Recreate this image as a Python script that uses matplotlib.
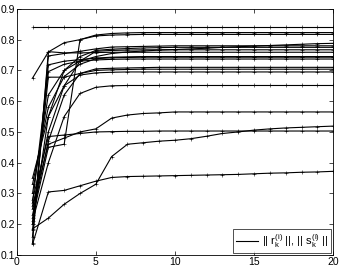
import matplotlib
matplotlib.use('Agg')
import matplotlib.pyplot as plt
import numpy as np

plt.rcParams['font.family'] = ['Liberation Sans', 'DejaVu Sans']
plt.rcParams['mathtext.default'] = 'regular'

################################################################################
# iterations k = 1..20, one row per curve
iters = list(range(1, 21))

norms = [
    [0.84, 0.84, 0.84, 0.84, 0.84, 0.84, 0.84, 0.84, 0.84, 0.84, 0.84, 0.84, 0.84, 0.84, 0.84, 0.84, 0.84, 0.84, 0.84, 0.84],
    [0.675, 0.76, 0.79, 0.80, 0.815, 0.82, 0.822, 0.823, 0.823, 0.823, 0.823, 0.823, 0.823, 0.823, 0.823, 0.823, 0.823, 0.823, 0.823, 0.823],
    [0.22, 0.45, 0.46, 0.80, 0.812, 0.815, 0.816, 0.817, 0.817, 0.817, 0.817, 0.817, 0.817, 0.817, 0.817, 0.817, 0.817, 0.817, 0.817, 0.817],
    [0.20, 0.55, 0.70, 0.73, 0.745, 0.755, 0.76, 0.763, 0.766, 0.768, 0.77, 0.772, 0.775, 0.777, 0.779, 0.781, 0.783, 0.785, 0.787, 0.788],
    [0.16, 0.747, 0.755, 0.762, 0.77, 0.776, 0.777, 0.778, 0.779, 0.78, 0.78, 0.78, 0.78, 0.78, 0.78, 0.78, 0.78, 0.78, 0.78, 0.78],
    [0.30, 0.62, 0.70, 0.745, 0.765, 0.769, 0.771, 0.773, 0.774, 0.775, 0.775, 0.775, 0.775, 0.775, 0.775, 0.775, 0.775, 0.775, 0.775, 0.775],
    [0.25, 0.50, 0.65, 0.73, 0.762, 0.765, 0.766, 0.767, 0.767, 0.767, 0.767, 0.767, 0.767, 0.767, 0.767, 0.767, 0.767, 0.767, 0.767, 0.767],
    [0.14, 0.761, 0.757, 0.757, 0.758, 0.759, 0.759, 0.759, 0.759, 0.759, 0.759, 0.759, 0.759, 0.759, 0.759, 0.759, 0.759, 0.759, 0.759, 0.759],
    [0.18, 0.718, 0.73, 0.735, 0.74, 0.743, 0.744, 0.745, 0.745, 0.745, 0.745, 0.745, 0.745, 0.745, 0.745, 0.745, 0.745, 0.745, 0.745, 0.745],
    [0.33, 0.58, 0.68, 0.72, 0.738, 0.741, 0.742, 0.743, 0.743, 0.743, 0.743, 0.743, 0.743, 0.743, 0.743, 0.743, 0.743, 0.743, 0.743, 0.743],
    [0.27, 0.696, 0.72, 0.73, 0.734, 0.736, 0.737, 0.737, 0.737, 0.737, 0.737, 0.737, 0.737, 0.737, 0.737, 0.737, 0.737, 0.737, 0.737, 0.737],
    [0.23, 0.47, 0.62, 0.69, 0.705, 0.707, 0.708, 0.709, 0.71, 0.71, 0.71, 0.71, 0.71, 0.71, 0.71, 0.71, 0.71, 0.71, 0.71, 0.71],
    [0.20, 0.678, 0.678, 0.69, 0.70, 0.702, 0.703, 0.704, 0.704, 0.704, 0.704, 0.704, 0.704, 0.704, 0.704, 0.704, 0.704, 0.704, 0.704, 0.704],
    [0.35, 0.55, 0.65, 0.685, 0.692, 0.694, 0.695, 0.695, 0.695, 0.695, 0.695, 0.695, 0.695, 0.695, 0.695, 0.695, 0.695, 0.695, 0.695, 0.695],
    [0.21, 0.40, 0.55, 0.625, 0.645, 0.65, 0.651, 0.651, 0.651, 0.651, 0.651, 0.651, 0.651, 0.651, 0.651, 0.651, 0.651, 0.651, 0.651, 0.651],
    [0.26, 0.46, 0.48, 0.50, 0.51, 0.545, 0.555, 0.56, 0.562, 0.565, 0.565, 0.565, 0.565, 0.565, 0.565, 0.565, 0.565, 0.565, 0.565, 0.565],
    [0.185, 0.22, 0.265, 0.30, 0.33, 0.42, 0.46, 0.465, 0.47, 0.473, 0.478, 0.486, 0.495, 0.50, 0.506, 0.51, 0.513, 0.515, 0.517, 0.519],
    [0.28, 0.485, 0.49, 0.495, 0.50, 0.501, 0.502, 0.502, 0.503, 0.503, 0.503, 0.503, 0.503, 0.503, 0.503, 0.503, 0.503, 0.503, 0.503, 0.503],
    [0.135, 0.305, 0.31, 0.325, 0.34, 0.352, 0.355, 0.356, 0.357, 0.358, 0.359, 0.36, 0.361, 0.362, 0.364, 0.366, 0.367, 0.369, 0.37, 0.372],
]

label = r'|| r$_k^{(i)}$ ||, || s$_k^{(i)}$ ||'
################################################################################


def Norm_Plot():
    fig = plt.figure(figsize=(3.41, 2.69), dpi=100)
    ax = fig.add_axes([0.049, 0.052, 0.928, 0.915])

    for j, row in enumerate(norms):
        ax.plot(iters, row, 'k-', marker='+', markersize=2.5, markeredgewidth=0.4,
                linewidth=0.8, label=label if j == 0 else None)

    ax.set_xlim(0, 20)
    ax.set_ylim(0.1, 0.9)
    ax.set_xticks([0, 5, 10, 15, 20])
    ax.set_yticks(np.arange(0.1, 0.91, 0.1))
    ax.set_yticklabels(['0.1', '0.2', '0.3', '0.4', '0.5', '0.6', '0.7', '0.8', '0.9'])
    ax.tick_params(direction='in', top=True, right=True, labelsize=7.5, length=3, width=0.5, pad=1.5)
    for s in ax.spines.values():
        s.set_linewidth(0.6)

    leg = ax.legend(loc='lower right', fontsize=8, frameon=True, fancybox=False,
                    handlelength=2.0, handletextpad=0.3, borderpad=0.3, borderaxespad=0.15)
    leg.get_frame().set_edgecolor('black')
    leg.get_frame().set_linewidth(0.6)
    for h in leg.legend_handles:
        h.set_marker('')

    fig.savefig('out.png', dpi=100)


if __name__ == "__main__":
    Norm_Plot()
